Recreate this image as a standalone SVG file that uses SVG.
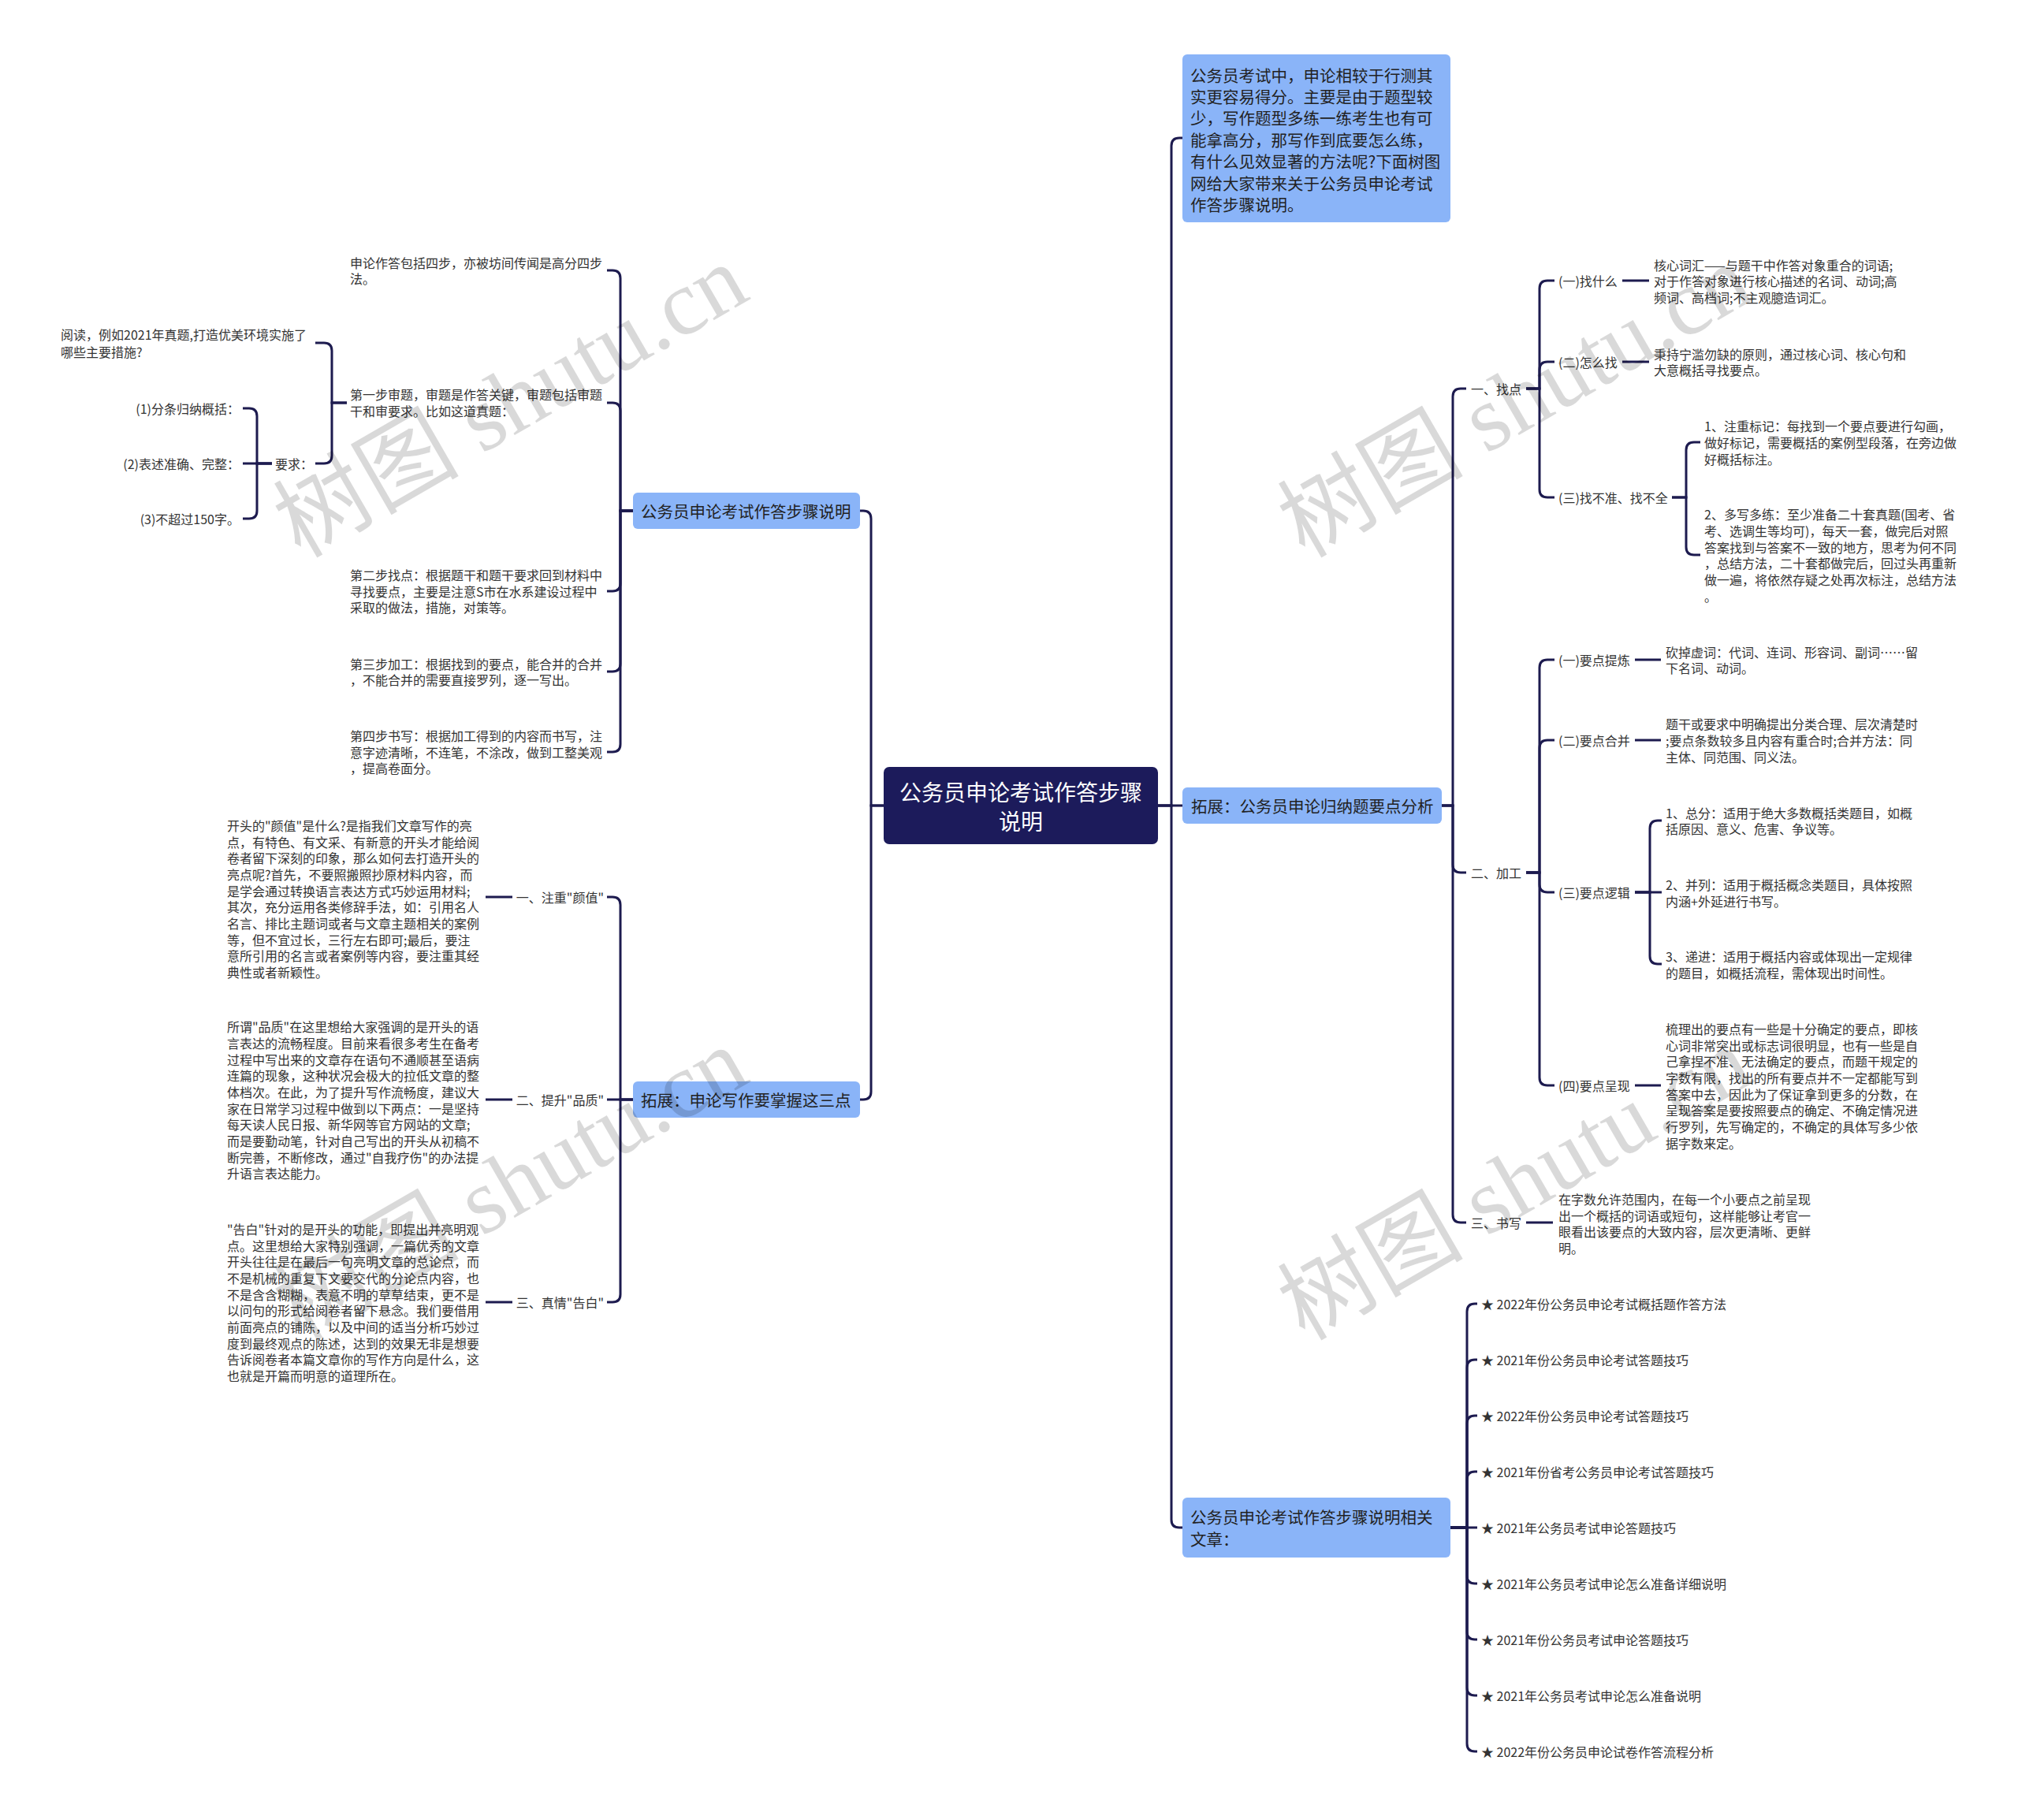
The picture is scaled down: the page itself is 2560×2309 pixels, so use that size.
<svg xmlns="http://www.w3.org/2000/svg" width="2560" height="2309" viewBox="0 0 2560 2309">
<style>
text { font-family: "Noto Sans CJK SC", "Noto Sans", sans-serif; dominant-baseline: central; }
.t { font-size: 16px; fill: #333; }
.te { font-size: 16px; fill: #333; text-anchor: end; }
.n { font-size: 20.5px; fill: #222; }
.root { font-size: 28px; fill: #fff; text-anchor: middle; }
.bx { fill: #8ab4f8; }
.rb { fill: #1c1b5b; }
.c path { fill: none; stroke: #1d1b4f; stroke-width: 3; }
.wm text { font-size: 118px; fill: #000; fill-opacity: 0.15; dominant-baseline: auto; }
.wm .s { font-family: "Liberation Serif", serif; }
</style>
<rect x="0" y="0" width="2560" height="2309" fill="#fff"/>

<g class="c" id="connectors">
<path d="M1469 1022H1486V185Q1486 175 1496 175H1500"/>
<path d="M1469 1022H1500"/>
<path d="M1469 1022H1486V1928Q1486 1938 1496 1938H1500"/>
<path d="M1121 1022H1105V658Q1105 648 1095 648H1091"/>
<path d="M1121 1022H1105V1385Q1105 1395 1095 1395H1091"/>
<path d="M1829 1022H1843V503Q1843 493 1853 493H1860"/>
<path d="M1829 1022H1843V1097Q1843 1107 1853 1107H1860"/>
<path d="M1829 1022H1843V1541Q1843 1551 1853 1551H1860"/>
<path d="M1936 493H1953V366Q1953 356 1963 356H1972"/>
<path d="M1936 493H1953V469Q1953 459 1963 459H1972"/>
<path d="M1936 493H1953V621Q1953 631 1963 631H1972"/>
<path d="M2058 356H2092"/>
<path d="M2058 459H2092"/>
<path d="M2121 631H2139V571Q2139 561 2149 561H2157"/>
<path d="M2121 631H2139V694Q2139 704 2149 704H2157"/>
<path d="M1936 1107H1953V847Q1953 837 1963 837H1972"/>
<path d="M1936 1107H1953V949Q1953 939 1963 939H1972"/>
<path d="M1936 1107H1953V1122Q1953 1132 1963 1132H1972"/>
<path d="M1936 1107H1953V1367Q1953 1377 1963 1377H1972"/>
<path d="M2074 837H2107"/>
<path d="M2074 939H2107"/>
<path d="M2074 1132H2093V1051Q2093 1041 2103 1041H2108"/>
<path d="M2074 1132H2108"/>
<path d="M2074 1132H2093V1213Q2093 1223 2103 1223H2108"/>
<path d="M2074 1377H2107"/>
<path d="M1936 1551H1970"/>
<path d="M1840 1938H1861V1664Q1861 1654 1871 1654H1874"/>
<path d="M1840 1938H1861V1735Q1861 1725 1871 1725H1874"/>
<path d="M1840 1938H1861V1806Q1861 1796 1871 1796H1874"/>
<path d="M1840 1938H1861V1877Q1861 1867 1871 1867H1874"/>
<path d="M1840 1938H1874"/>
<path d="M1840 1938H1861V1999Q1861 2009 1871 2009H1874"/>
<path d="M1840 1938H1861V2070Q1861 2080 1871 2080H1874"/>
<path d="M1840 1938H1861V2141Q1861 2151 1871 2151H1874"/>
<path d="M1840 1938H1861V2212Q1861 2222 1871 2222H1874"/>
<path d="M803 648H787V353Q787 343 777 343H770"/>
<path d="M803 648H787V521Q787 511 777 511H770"/>
<path d="M803 648H787V740Q787 750 777 750H770"/>
<path d="M803 648H787V842Q787 852 777 852H770"/>
<path d="M803 648H787V944Q787 954 777 954H770"/>
<path d="M440 511H421V445Q421 435 411 435H400"/>
<path d="M440 511H421V578Q421 588 411 588H400"/>
<path d="M345 588H326V528Q326 518 316 518H308"/>
<path d="M345 588H308"/>
<path d="M345 588H326V648Q326 658 316 658H308"/>
<path d="M803 1395H787V1148Q787 1138 777 1138H770"/>
<path d="M803 1395H770"/>
<path d="M803 1395H787V1642Q787 1652 777 1652H770"/>
<path d="M650 1138H616"/>
<path d="M650 1395H616"/>
<path d="M650 1652H616"/>
</g>

<g id="root">
<rect class="rb" x="1121" y="973" width="348" height="98" rx="7"/>
<text class="root"><tspan x="1295" y="1004">公务员申论考试作答步骤</tspan><tspan x="1295" y="1041">说明</tspan></text>
</g>

<g id="intro">
<rect class="bx" x="1500" y="69" width="340" height="213" rx="6"/>
<text class="n"><tspan x="1510" y="95">公务员考试中，申论相较于行测其</tspan><tspan x="1510" y="122">实更容易得分。主要是由于题型较</tspan><tspan x="1510" y="149">少，写作题型多练一练考生也有可</tspan><tspan x="1510" y="177">能拿高分，那写作到底要怎么练，</tspan><tspan x="1510" y="204">有什么见效显著的方法呢?下面树图</tspan><tspan x="1510" y="232">网给大家带来关于公务员申论考试</tspan><tspan x="1510" y="259">作答步骤说明。</tspan></text>
</g>

<g id="guina">
<rect class="bx" x="1500" y="999" width="329" height="46" rx="6"/>
<text class="n" x="1511" y="1022">拓展：公务员申论归纳题要点分析</text>
</g>

<g id="related">
<rect class="bx" x="1500" y="1900" width="340" height="76" rx="6"/>
<text class="n"><tspan x="1510" y="1924">公务员申论考试作答步骤说明相关</tspan><tspan x="1510" y="1952">文章：</tspan></text>
</g>

<g id="left1">
<rect class="bx" x="803" y="625" width="288" height="46" rx="6"/>
<text class="n" x="813" y="648">公务员申论考试作答步骤说明</text>
</g>

<g id="left2">
<rect class="bx" x="803" y="1372" width="288" height="46" rx="6"/>
<text class="n" x="813" y="1395">拓展：申论写作要掌握这三点</text>
</g>

<g id="zhaodian">
<text class="t" x="1866" y="493">一、找点</text>
<text class="t" x="1977" y="356">(一)找什么</text>
<text class="t"><tspan x="2098" y="336">核心词汇——与题干中作答对象重合的词语;</tspan><tspan x="2098" y="356">对于作答对象进行核心描述的名词、动词;高</tspan><tspan x="2098" y="377">频词、高档词;不主观臆造词汇。</tspan></text>
<text class="t" x="1977" y="459">(二)怎么找</text>
<text class="t"><tspan x="2098" y="449">秉持宁滥勿缺的原则，通过核心词、核心句和</tspan><tspan x="2098" y="469">大意概括寻找要点。</tspan></text>
<text class="t" x="1977" y="631">(三)找不准、找不全</text>
<text class="t"><tspan x="2162" y="540">1、注重标记：每找到一个要点要进行勾画，</tspan><tspan x="2162" y="561">做好标记，需要概括的案例型段落，在旁边做</tspan><tspan x="2162" y="582">好概括标注。</tspan></text>
<text class="t"><tspan x="2162" y="652">2、多写多练：至少准备二十套真题(国考、省</tspan><tspan x="2162" y="673">考、选调生等均可)，每天一套，做完后对照</tspan><tspan x="2162" y="694">答案找到与答案不一致的地方，思考为何不同</tspan><tspan x="2162" y="714">，总结方法，二十套都做完后，回过头再重新</tspan><tspan x="2162" y="735">做一遍，将依然存疑之处再次标注，总结方法</tspan><tspan x="2162" y="756">。</tspan></text>
</g>

<g id="jiagong">
<text class="t" x="1866" y="1107">二、加工</text>
<text class="t" x="1977" y="837">(一)要点提炼</text>
<text class="t"><tspan x="2113" y="827">砍掉虚词：代词、连词、形容词、副词……留</tspan><tspan x="2113" y="847">下名词、动词。</tspan></text>
<text class="t" x="1977" y="939">(二)要点合并</text>
<text class="t"><tspan x="2113" y="918">题干或要求中明确提出分类合理、层次清楚时</tspan><tspan x="2113" y="939">;要点条数较多且内容有重合时;合并方法：同</tspan><tspan x="2113" y="960">主体、同范围、同义法。</tspan></text>
<text class="t" x="1977" y="1132">(三)要点逻辑</text>
<text class="t"><tspan x="2113" y="1031">1、总分：适用于绝大多数概括类题目，如概</tspan><tspan x="2113" y="1051">括原因、意义、危害、争议等。</tspan></text>
<text class="t"><tspan x="2113" y="1122">2、并列：适用于概括概念类题目，具体按照</tspan><tspan x="2113" y="1143">内涵+外延进行书写。</tspan></text>
<text class="t"><tspan x="2113" y="1213">3、递进：适用于概括内容或体现出一定规律</tspan><tspan x="2113" y="1234">的题目，如概括流程，需体现出时间性。</tspan></text>
<text class="t" x="1977" y="1377">(四)要点呈现</text>
<text class="t"><tspan x="2113" y="1305">梳理出的要点有一些是十分确定的要点，即核</tspan><tspan x="2113" y="1326">心词非常突出或标志词很明显，也有一些是自</tspan><tspan x="2113" y="1346">己拿捏不准、无法确定的要点，而题干规定的</tspan><tspan x="2113" y="1367">字数有限，找出的所有要点并不一定都能写到</tspan><tspan x="2113" y="1388">答案中去，因此为了保证拿到更多的分数，在</tspan><tspan x="2113" y="1408">呈现答案是要按照要点的确定、不确定情况进</tspan><tspan x="2113" y="1429">行罗列，先写确定的，不确定的具体写多少依</tspan><tspan x="2113" y="1450">据字数来定。</tspan></text>
</g>

<g id="shuxie">
<text class="t" x="1866" y="1551">三、书写</text>
<text class="t"><tspan x="1977" y="1521">在字数允许范围内，在每一个小要点之前呈现</tspan><tspan x="1977" y="1542">出一个概括的词语或短句，这样能够让考官一</tspan><tspan x="1977" y="1562">眼看出该要点的大致内容，层次更清晰、更鲜</tspan><tspan x="1977" y="1583">明。</tspan></text>
</g>

<g id="related-items">
<text class="t" x="1879" y="1654">★ 2022年份公务员申论考试概括题作答方法</text>
<text class="t" x="1879" y="1725">★ 2021年份公务员申论考试答题技巧</text>
<text class="t" x="1879" y="1796">★ 2022年份公务员申论考试答题技巧</text>
<text class="t" x="1879" y="1867">★ 2021年份省考公务员申论考试答题技巧</text>
<text class="t" x="1879" y="1938">★ 2021年公务员考试申论答题技巧</text>
<text class="t" x="1879" y="2009">★ 2021年公务员考试申论怎么准备详细说明</text>
<text class="t" x="1879" y="2080">★ 2021年份公务员考试申论答题技巧</text>
<text class="t" x="1879" y="2151">★ 2021年公务员考试申论怎么准备说明</text>
<text class="t" x="1879" y="2222">★ 2022年份公务员申论试卷作答流程分析</text>
</g>

<g id="steps">
<text class="t"><tspan x="444" y="333">申论作答包括四步，亦被坊间传闻是高分四步</tspan><tspan x="444" y="353">法。</tspan></text>
<text class="t"><tspan x="444" y="500">第一步审题，审题是作答关键，审题包括审题</tspan><tspan x="444" y="521">干和审要求。比如这道真题：</tspan></text>
<text class="t"><tspan x="444" y="729">第二步找点：根据题干和题干要求回到材料中</tspan><tspan x="444" y="750">寻找要点，主要是注意S市在水系建设过程中</tspan><tspan x="444" y="770">采取的做法，措施，对策等。</tspan></text>
<text class="t"><tspan x="444" y="842">第三步加工：根据找到的要点，能合并的合并</tspan><tspan x="444" y="862">，不能合并的需要直接罗列，逐一写出。</tspan></text>
<text class="t"><tspan x="444" y="933">第四步书写：根据加工得到的内容而书写，注</tspan><tspan x="444" y="954">意字迹清晰，不连笔，不涂改，做到工整美观</tspan><tspan x="444" y="974">，提高卷面分。</tspan></text>
<text class="t"><tspan x="77" y="424">阅读，例如2021年真题,打造优美环境实施了</tspan><tspan x="77" y="446">哪些主要措施?</tspan></text>
<text class="te" x="397" y="588">要求：</text>
<text class="te" x="304" y="518">(1)分条归纳概括：</text>
<text class="te" x="304" y="588">(2)表述准确、完整：</text>
<text class="te" x="304" y="658">(3)不超过150字。</text>
</g>

<g id="three-points">
<text class="te" x="766" y="1138">一、注重"颜值"</text>
<text class="t"><tspan x="288" y="1047">开头的"颜值"是什么?是指我们文章写作的亮</tspan><tspan x="288" y="1068">点，有特色、有文采、有新意的开头才能给阅</tspan><tspan x="288" y="1088">卷者留下深刻的印象，那么如何去打造开头的</tspan><tspan x="288" y="1109">亮点呢?首先，不要照搬照抄原材料内容，而</tspan><tspan x="288" y="1130">是学会通过转换语言表达方式巧妙运用材料;</tspan><tspan x="288" y="1150">其次，充分运用各类修辞手法，如：引用名人</tspan><tspan x="288" y="1171">名言、排比主题词或者与文章主题相关的案例</tspan><tspan x="288" y="1192">等，但不宜过长，三行左右即可;最后，要注</tspan><tspan x="288" y="1212">意所引用的名言或者案例等内容，要注重其经</tspan><tspan x="288" y="1233">典性或者新颖性。</tspan></text>
<text class="te" x="766" y="1395">二、提升"品质"</text>
<text class="t"><tspan x="288" y="1302">所谓"品质"在这里想给大家强调的是开头的语</tspan><tspan x="288" y="1323">言表达的流畅程度。目前来看很多考生在备考</tspan><tspan x="288" y="1344">过程中写出来的文章存在语句不通顺甚至语病</tspan><tspan x="288" y="1364">连篇的现象，这种状况会极大的拉低文章的整</tspan><tspan x="288" y="1385">体档次。在此，为了提升写作流畅度，建议大</tspan><tspan x="288" y="1406">家在日常学习过程中做到以下两点：一是坚持</tspan><tspan x="288" y="1426">每天读人民日报、新华网等官方网站的文章;</tspan><tspan x="288" y="1447">而是要勤动笔，针对自己写出的开头从初稿不</tspan><tspan x="288" y="1468">断完善，不断修改，通过"自我疗伤"的办法提</tspan><tspan x="288" y="1488">升语言表达能力。</tspan></text>
<text class="te" x="766" y="1652">三、真情"告白"</text>
<text class="t"><tspan x="288" y="1559">"告白"针对的是开头的功能，即提出并亮明观</tspan><tspan x="288" y="1580">点。这里想给大家特别强调，一篇优秀的文章</tspan><tspan x="288" y="1600">开头往往是在最后一句亮明文章的总论点，而</tspan><tspan x="288" y="1621">不是机械的重复下文要交代的分论点内容，也</tspan><tspan x="288" y="1642">不是含含糊糊，表意不明的草草结束，更不是</tspan><tspan x="288" y="1662">以问句的形式给阅卷者留下悬念。我们要借用</tspan><tspan x="288" y="1683">前面亮点的铺陈，以及中间的适当分析巧妙过</tspan><tspan x="288" y="1704">度到最终观点的陈述，达到的效果无非是想要</tspan><tspan x="288" y="1724">告诉阅卷者本篇文章你的写作方向是什么，这</tspan><tspan x="288" y="1745">也就是开篇而明意的道理所在。</tspan></text>
</g>

<g class="wm" id="watermarks">
<text x="381" y="709" transform="rotate(-30 381 709)">树图<tspan class="s"> shutu.cn</tspan></text>
<text x="1655" y="709" transform="rotate(-30 1655 709)">树图<tspan class="s"> shutu.cn</tspan></text>
<text x="381" y="1702" transform="rotate(-30 381 1702)">树图<tspan class="s"> shutu.cn</tspan></text>
<text x="1655" y="1702" transform="rotate(-30 1655 1702)">树图<tspan class="s"> shutu.cn</tspan></text>
</g>
</svg>
